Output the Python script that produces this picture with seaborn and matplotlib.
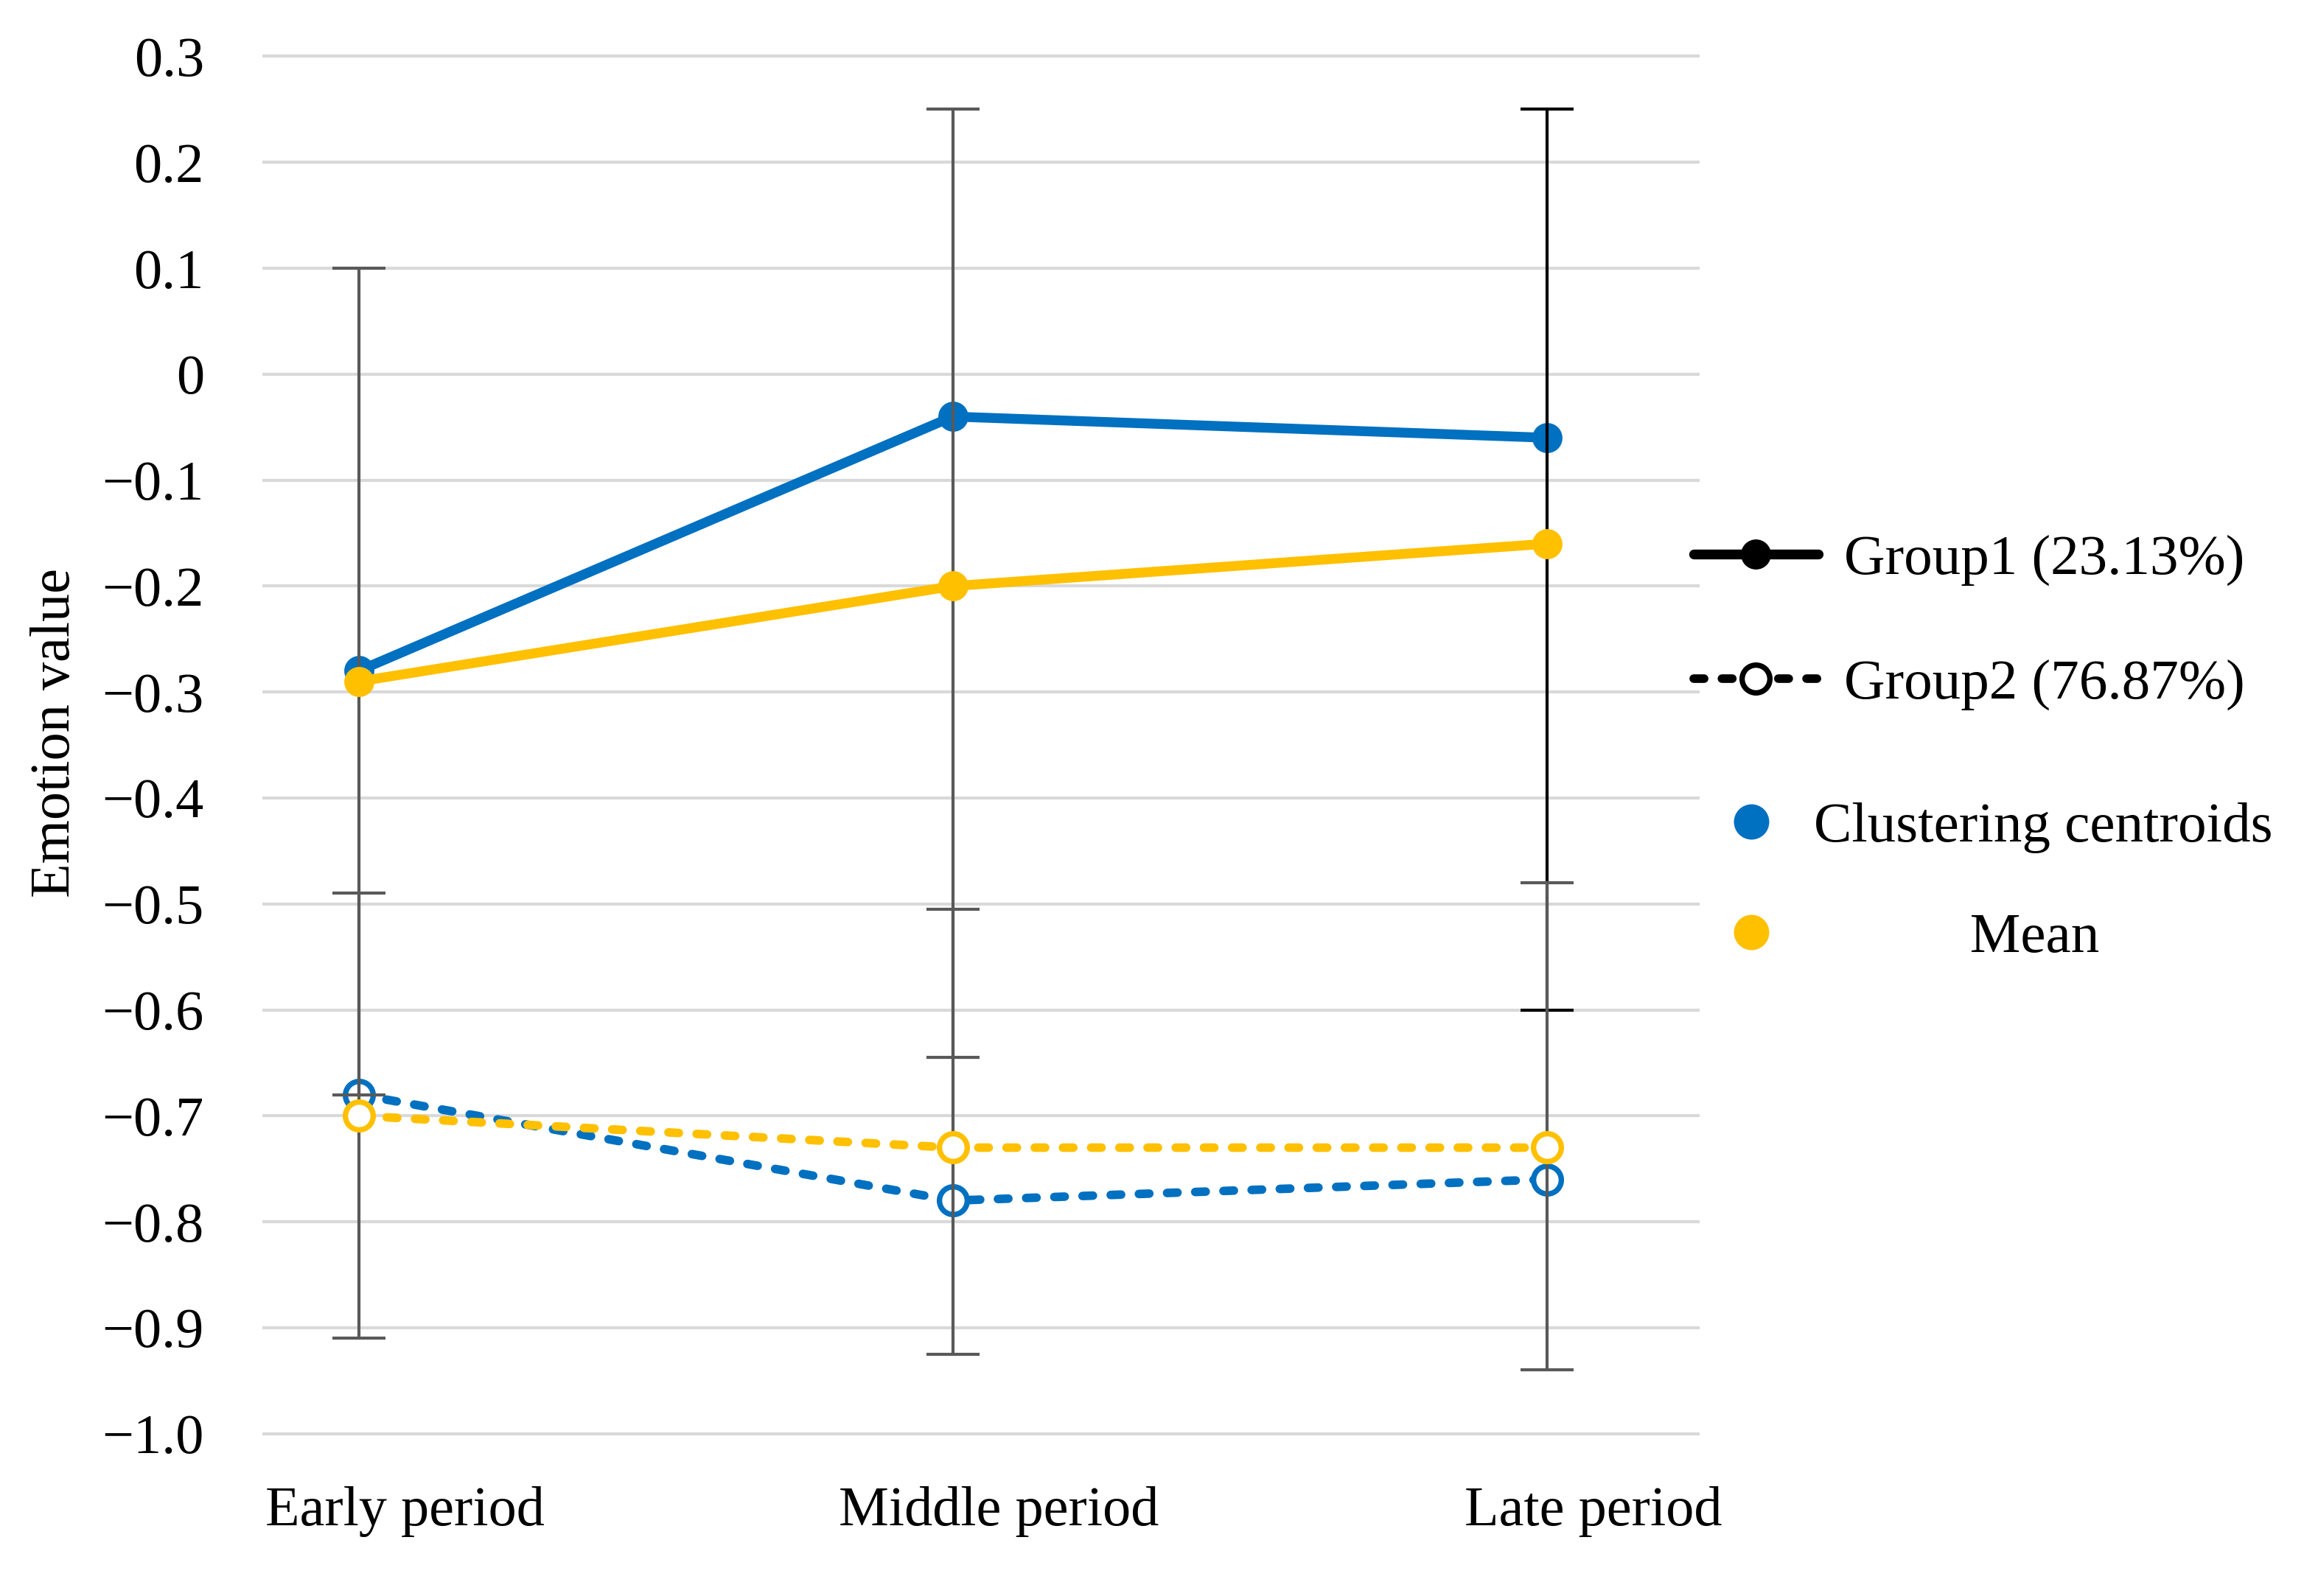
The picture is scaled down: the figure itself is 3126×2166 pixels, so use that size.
# =============================================================
# Emotion value trajectories of two clusters (centroid vs mean)
# Early / Middle / Late period, with error bars on the means
# =============================================================

import numpy as np
import matplotlib
matplotlib.use("Agg")
import matplotlib.pyplot as plt
import matplotlib.transforms as mtransforms
from matplotlib.lines import Line2D
import seaborn as sns

# -- Data --------------------------------------------------------
periods       = ["Early period", "Middle period", "Late period"]
g1_centroid   = [-0.28, -0.04, -0.06]
g1_mean       = [-0.29, -0.20, -0.16]
g2_centroid   = [-0.68, -0.78, -0.76]
g2_mean       = [-0.70, -0.73, -0.73]
g1_err_top    = [0.10, 0.25, 0.25]
g1_err_bottom = [-0.68, -0.645, -0.60]
g2_err_top    = [-0.49, -0.505, -0.48]
g2_err_bottom = [-0.91, -0.925, -0.94]
y_ticks       = [0.3, 0.2, 0.1, 0.0, -0.1, -0.2, -0.3, -0.4, -0.5,
                 -0.6, -0.7, -0.8, -0.9, -1.0]
y_ticklabels  = ["0.3", "0.2", "0.1", "0", "\u22120.1", "\u22120.2", "\u22120.3",
                 "\u22120.4", "\u22120.5", "\u22120.6", "\u22120.7", "\u22120.8",
                 "\u22120.9", "\u22121.0"]
legend_groups = ["Group1 (23.13%)", "Group2 (76.87%)"]
legend_kinds  = ["Clustering centroids", "Mean"]

# -- Style -------------------------------------------------------
sns.set_theme(style="white")
plt.rcParams["font.family"] = ["Liberation Serif", "DejaVu Serif"]
plt.rcParams["font.size"] = 18
for k in ["text.color", "axes.labelcolor", "xtick.color", "ytick.color"]:
    plt.rcParams[k] = "black"

BLUE, GOLD, BAR = "#0070C0", "#FFC000", "#595959"
DASH = (0, (1.21, 2.07))
LW_SOLID, LW_DASH = 3.2, 2.8
MS_SOLID, MS_HOLLOW, MEW_HOLLOW = 9.8, 9.05, 1.76
g1_bar_colors = [BAR, BAR, "black"]
g2_bar_colors = [BAR, BAR, BAR]

x = np.arange(len(periods))

fig = plt.figure(figsize=(10.42, 7.22), dpi=300)
ax = fig.add_axes([0.1139, 0.0997, 0.6238, 0.8670])


def draw_series(vals, color, hollow, z):
    sns.lineplot(x=x, y=vals, ax=ax, color=color, errorbar=None,
                 linewidth=LW_DASH if hollow else LW_SOLID,
                 linestyle=DASH if hollow else "-",
                 dash_capstyle="round", solid_capstyle="round",
                 marker="o",
                 markersize=MS_HOLLOW if hollow else MS_SOLID,
                 markerfacecolor="white" if hollow else color,
                 markeredgecolor=color,
                 markeredgewidth=MEW_HOLLOW if hollow else 0.0,
                 zorder=z)


# centroids sit under the error bars, means on top of them
draw_series(g1_centroid, BLUE, False, 3)
draw_series(g2_centroid, BLUE, True, 3)

for means, tops, bottoms, cols in [(g1_mean, g1_err_top, g1_err_bottom, g1_bar_colors),
                                   (g2_mean, g2_err_top, g2_err_bottom, g2_bar_colors)]:
    for i in range(len(x)):
        ax.errorbar(x[i], means[i],
                    yerr=[[means[i] - bottoms[i]], [tops[i] - means[i]]],
                    fmt="none", ecolor=cols[i], elinewidth=1.0,
                    capsize=8.75, capthick=1.0, zorder=4)

draw_series(g1_mean, GOLD, False, 5)
draw_series(g2_mean, GOLD, True, 5)

# -- Axes --------------------------------------------------------
ax.set_xlim(-0.162, 2.257)
ax.set_ylim(-1.003, 0.303)
ax.set_yticks(y_ticks)
ax.set_yticklabels(y_ticklabels)
ax.set_xticks(x)
ax.set_xticklabels(periods)
ax.tick_params(length=0, labelsize=18.3)
ax.tick_params(axis="y", pad=19)
ax.tick_params(axis="x", pad=16)
for s in ax.spines.values():
    s.set_visible(False)
ax.yaxis.grid(True, color="#D9D9D9", linewidth=1.0)
ax.xaxis.grid(False)
ax.set_axisbelow(True)

shift = mtransforms.ScaledTranslation(15 / 72, 0, fig.dpi_scale_trans)
for lab in ax.get_xticklabels():
    lab.set_transform(lab.get_transform() + shift)

ax.set_ylabel("Emotion value", fontsize=18.3)
ax.yaxis.set_label_coords(-0.126, 0.509)

# -- Legends -----------------------------------------------------
h_groups = [
    Line2D([], [], color="black", lw=LW_SOLID, marker="o", markersize=MS_SOLID,
           markerfacecolor="black", markeredgewidth=0, solid_capstyle="round"),
    Line2D([], [], color="black", lw=LW_DASH, linestyle=DASH, dash_capstyle="round",
           marker="o", markersize=MS_HOLLOW, markerfacecolor="white",
           markeredgecolor="black", markeredgewidth=MEW_HOLLOW),
]
fig.legend(h_groups, legend_groups, loc="center left",
           bbox_to_anchor=(0.735, 0.610), frameon=False, fontsize=18.5,
           handlelength=2.2, handletextpad=0.45, labelspacing=1.28,
           borderpad=0, borderaxespad=0)

h_kinds = [Line2D([], [], linestyle="none", marker="o", markersize=10.5,
                  color=BLUE),
           Line2D([], [], linestyle="none", marker="o", markersize=10.5,
                  color=GOLD)]
kind_labels = [legend_kinds[0], " " * 11 + legend_kinds[1]]
fig.legend(h_kinds, kind_labels, loc="center left",
           bbox_to_anchor=(0.737, 0.447), frameon=False, fontsize=18.5,
           handlelength=1.88, handletextpad=0.16, labelspacing=1.04,
           borderpad=0, borderaxespad=0)

fig.savefig("out.png", dpi=300)
plt.close(fig)
print("[FIGURE] out.png saved")
